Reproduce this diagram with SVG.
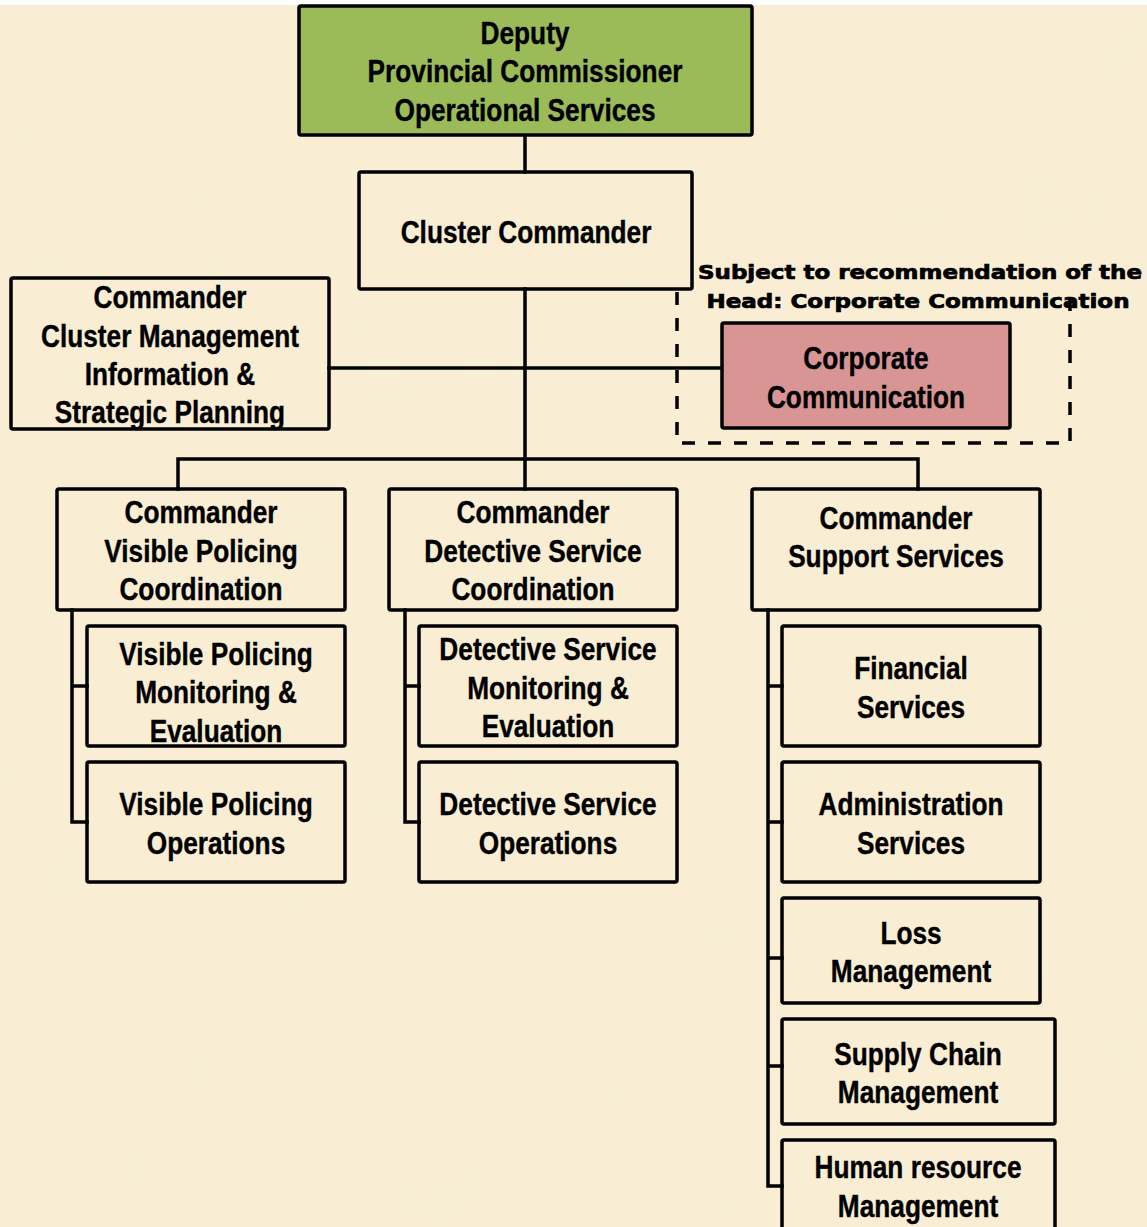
<svg xmlns="http://www.w3.org/2000/svg" width="1147" height="1227" viewBox="0 0 1147 1227">
  <defs>
    <filter id="parchment" x="0" y="0" width="100%" height="100%">
      <feTurbulence type="fractalNoise" baseFrequency="0.012" numOctaves="3" seed="7" result="n"/>
      <feColorMatrix in="n" type="matrix" values="0 0 0 0 0.93  0 0 0 0 0.86  0 0 0 0 0.66  0 0 0 0.35 0"/>
    </filter>
    <style>
      .box { fill: none; stroke: #000; stroke-width: 3.5; }
      .green { fill: #9BBB59; }
      .pink { fill: #D99594; }
      .wire { fill: none; stroke: #000; stroke-width: 3.5; stroke-linecap: square; }
      .dash { fill: none; stroke: #000; stroke-width: 3.5; stroke-dasharray: 13 13; }
      /* narrow bold labels: Liberation Sans squeezed horizontally by the wrapping group */
      .lbl { font-family: "Liberation Sans", Arial, sans-serif; font-weight: bold; font-size: 32px; fill: #000; stroke: #000; stroke-width: 0.4; text-anchor: middle; }
      .note { font-family: "DejaVu Sans", "Liberation Sans", sans-serif; font-weight: bold; font-size: 19px; fill: #000; stroke: #000; stroke-width: 0.7; text-anchor: middle; }
    </style>
  </defs>

  <!-- page -->
  <rect x="0" y="0" width="1147" height="1227" fill="#ffffff"/>
  <rect x="0" y="5" width="1147" height="1222" fill="#F9EED4"/>
  <rect x="0" y="5" width="1147" height="1222" filter="url(#parchment)"/>

  <!-- connectors -->
  <g id="connectors">
    <path class="wire" d="M525 135 V172"/>
    <path class="wire" d="M525 289 V459"/>
    <path class="wire" d="M329 368 H722"/>
    <path class="wire" d="M178 489 V459 H918 V489"/>
    <path class="wire" d="M525 459 V489"/>
    <path class="wire" d="M72 610 V822 H87 M72 686 H87"/>
    <path class="wire" d="M405 610 V822 H419 M405 686 H419"/>
    <path class="wire" d="M768 610 V1186 H782 M768 686 H782 M768 822 H782 M768 958 H782 M768 1066 H782"/>
    <path class="dash" d="M677 292 V443 H1070 V292"/>
  </g>

  <g id="node-dpc">
    <rect class="box green" x="299" y="6" width="453" height="129" rx="2"/>
    <g transform="translate(525 0) scale(0.82 1)">
      <text class="lbl" x="0" y="44">Deputy</text>
      <text class="lbl" x="0" y="82">Provincial Commissioner</text>
      <text class="lbl" x="0" y="121">Operational Services</text>
    </g>
  </g>

  <g id="node-cluster-commander">
    <rect class="box" x="359" y="172" width="333" height="117" rx="2"/>
    <g transform="translate(526 0) scale(0.82 1)">
      <text class="lbl" x="0" y="243">Cluster Commander</text>
    </g>
  </g>

  <g id="node-cmisp">
    <rect class="box" x="11" y="278" width="318" height="151" rx="2"/>
    <g transform="translate(170 0) scale(0.82 1)">
      <text class="lbl" x="0" y="308">Commander</text>
      <text class="lbl" x="0" y="347">Cluster Management</text>
      <text class="lbl" x="0" y="385">Information &amp;</text>
      <text class="lbl" x="0" y="423">Strategic Planning</text>
    </g>
  </g>

  <g id="node-corporate-communication">
    <text class="note" x="920" y="279" textLength="444" lengthAdjust="spacingAndGlyphs">Subject to recommendation of the</text>
    <text class="note" x="918" y="308" textLength="423" lengthAdjust="spacingAndGlyphs">Head: Corporate Communication</text>
    <rect class="box pink" x="722" y="323" width="288" height="105" rx="2"/>
    <g transform="translate(866 0) scale(0.82 1)">
      <text class="lbl" x="0" y="369">Corporate</text>
      <text class="lbl" x="0" y="408">Communication</text>
    </g>
  </g>

  <g id="node-vp-coordination">
    <rect class="box" x="57" y="489" width="288" height="121" rx="2"/>
    <g transform="translate(201 0) scale(0.82 1)">
      <text class="lbl" x="0" y="523">Commander</text>
      <text class="lbl" x="0" y="562">Visible Policing</text>
      <text class="lbl" x="0" y="600">Coordination</text>
    </g>
  </g>

  <g id="node-vp-me">
    <rect class="box" x="87" y="626" width="258" height="120" rx="2"/>
    <g transform="translate(216 0) scale(0.82 1)">
      <text class="lbl" x="0" y="665">Visible Policing</text>
      <text class="lbl" x="0" y="703">Monitoring &amp;</text>
      <text class="lbl" x="0" y="742">Evaluation</text>
    </g>
  </g>

  <g id="node-vp-ops">
    <rect class="box" x="87" y="762" width="258" height="120" rx="2"/>
    <g transform="translate(216 0) scale(0.82 1)">
      <text class="lbl" x="0" y="815">Visible Policing</text>
      <text class="lbl" x="0" y="854">Operations</text>
    </g>
  </g>

  <g id="node-ds-coordination">
    <rect class="box" x="389" y="489" width="288" height="121" rx="2"/>
    <g transform="translate(533 0) scale(0.82 1)">
      <text class="lbl" x="0" y="523">Commander</text>
      <text class="lbl" x="0" y="562">Detective Service</text>
      <text class="lbl" x="0" y="600">Coordination</text>
    </g>
  </g>

  <g id="node-ds-me">
    <rect class="box" x="419" y="626" width="258" height="120" rx="2"/>
    <g transform="translate(548 0) scale(0.82 1)">
      <text class="lbl" x="0" y="660">Detective Service</text>
      <text class="lbl" x="0" y="699">Monitoring &amp;</text>
      <text class="lbl" x="0" y="737">Evaluation</text>
    </g>
  </g>

  <g id="node-ds-ops">
    <rect class="box" x="419" y="762" width="258" height="120" rx="2"/>
    <g transform="translate(548 0) scale(0.82 1)">
      <text class="lbl" x="0" y="815">Detective Service</text>
      <text class="lbl" x="0" y="854">Operations</text>
    </g>
  </g>

  <g id="node-support">
    <rect class="box" x="752" y="489" width="288" height="121" rx="2"/>
    <g transform="translate(896 0) scale(0.82 1)">
      <text class="lbl" x="0" y="529">Commander</text>
      <text class="lbl" x="0" y="567">Support Services</text>
    </g>
  </g>

  <g id="node-financial">
    <rect class="box" x="782" y="626" width="258" height="120" rx="2"/>
    <g transform="translate(911 0) scale(0.82 1)">
      <text class="lbl" x="0" y="679">Financial</text>
      <text class="lbl" x="0" y="718">Services</text>
    </g>
  </g>

  <g id="node-admin">
    <rect class="box" x="782" y="762" width="258" height="120" rx="2"/>
    <g transform="translate(911 0) scale(0.82 1)">
      <text class="lbl" x="0" y="815">Administration</text>
      <text class="lbl" x="0" y="854">Services</text>
    </g>
  </g>

  <g id="node-loss">
    <rect class="box" x="782" y="898" width="258" height="105" rx="2"/>
    <g transform="translate(911 0) scale(0.82 1)">
      <text class="lbl" x="0" y="944">Loss</text>
      <text class="lbl" x="0" y="982">Management</text>
    </g>
  </g>

  <g id="node-supply-chain">
    <rect class="box" x="782" y="1019" width="273" height="105" rx="2"/>
    <g transform="translate(918 0) scale(0.82 1)">
      <text class="lbl" x="0" y="1065">Supply Chain</text>
      <text class="lbl" x="0" y="1103">Management</text>
    </g>
  </g>

  <g id="node-hr">
    <rect class="box" x="782" y="1140" width="273" height="100" rx="2"/>
    <g transform="translate(918 0) scale(0.82 1)">
      <text class="lbl" x="0" y="1178">Human resource</text>
      <text class="lbl" x="0" y="1217">Management</text>
    </g>
  </g>
</svg>
